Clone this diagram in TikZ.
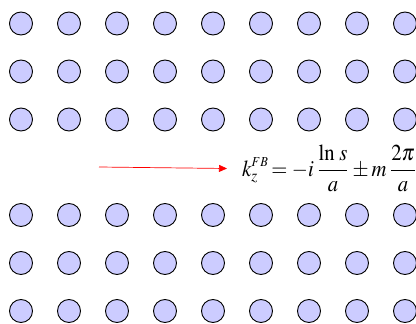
\documentclass[tikz,border=0pt]{standalone}
\usepackage{mathptmx}
\usepackage{graphicx}
\usetikzlibrary{arrows.meta}
\definecolor{dotfill}{RGB}{204,204,255}
\begin{document}
\begin{tikzpicture}[x=1pt,y=-1pt,
  dot/.style={circle,draw=black,fill=dotfill,line width=0.9pt,minimum size=23pt,inner sep=0pt},
  ray/.style={red,line width=0.7pt,-{Triangle[length=8pt,width=7pt]}},
  eqn/.style={anchor=west,inner sep=0pt}]
\useasboundingbox (0,0) rectangle (416,324);
\foreach \r/\y in {1/23.5,2/71.5,3/119.5,4/215,5/263,6/311}
  \foreach \c in {1,...,9}
    \node[dot] (c-\r-\c) at ({21+48*(\c-1)},\y) {};
\coordinate (start) at (99,167);
\node[eqn] (eq) at (242,168.5) {\resizebox*{175pt}{47pt}{$\displaystyle k_z^{\scriptscriptstyle FB}\!=-i\,\frac{\ln\,s}{a}\pm m\,\frac{2\pi}{a}$}};
\draw[ray] (start) -- ([xshift=-15pt]eq.west);
\end{tikzpicture}
\end{document}
